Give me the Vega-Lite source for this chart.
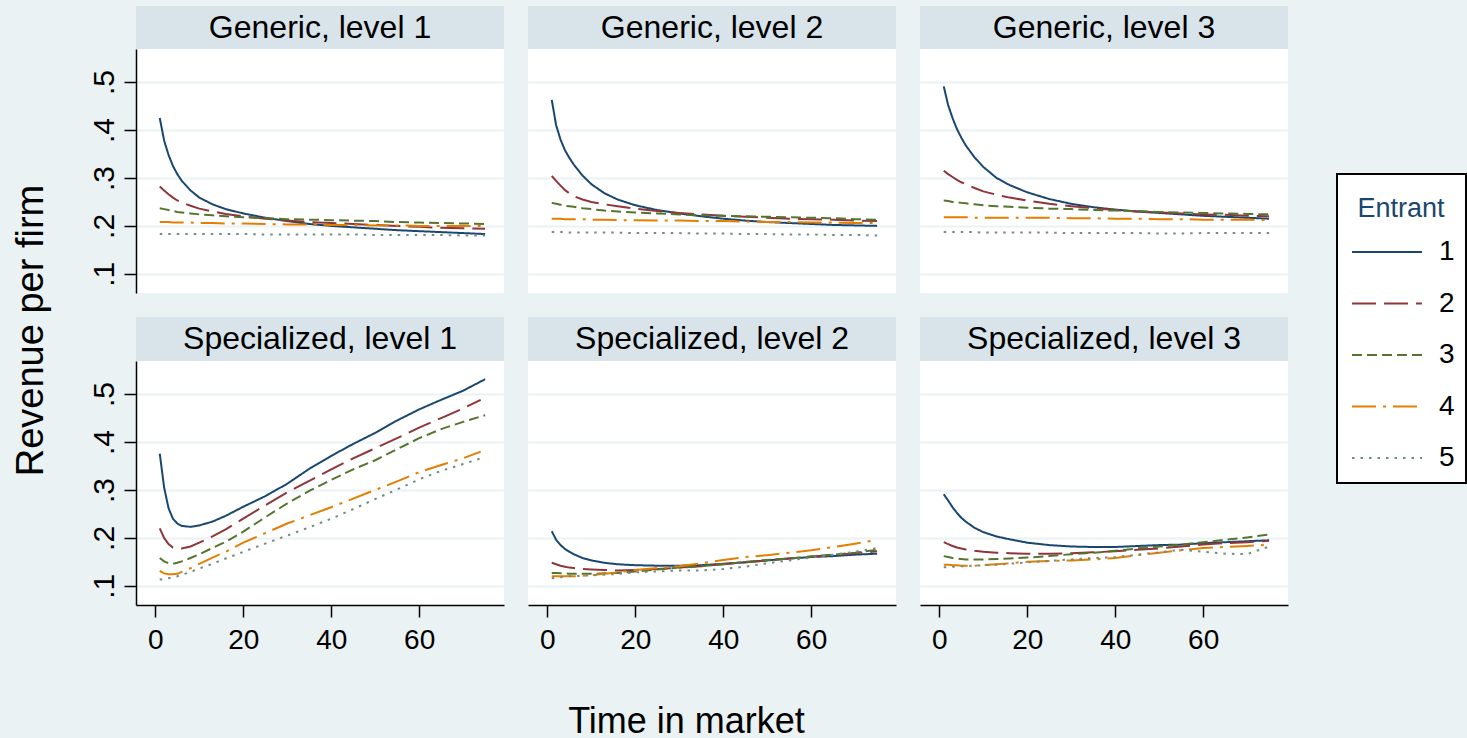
{
"$schema":"https://vega.github.io/schema/vega-lite/v6.json",
"background":"#eaf2f3",
"autosize":{"type":"pad"},
"padding":{"left":12,"top":6,"right":0,"bottom":0},
"title":{"text":"Revenue per firm","orient":"left","anchor":"middle","fontSize":38,"fontWeight":"normal","font":"Liberation Sans","color":"black","offset":38,"dx":42},
"config":{
 "font":"Liberation Sans",
 "view":{"stroke":null,"fill":"white"},
 "axis":{"domainColor":"black","domainWidth":1.5,"tickColor":"black","tickWidth":1.5,"tickSize":12,"labelFont":"Liberation Sans","labelFontSize":28,"labelColor":"black","gridColor":"#eaf2f3","gridWidth":2,"titleFont":"Liberation Sans","titleFontWeight":"normal","titleColor":"black"},
 "legend":{"strokeWidth":2,"labelFont":"Liberation Sans","titleFont":"Liberation Sans"},
 "text":{"font":"Liberation Sans"}
},
"datasets":{"d":[
{"p":"G1","e":"1","t":1,"v":0.425},{"p":"G1","e":"1","t":2,"v":0.378},{"p":"G1","e":"1","t":3,"v":0.348},{"p":"G1","e":"1","t":4,"v":0.325},{"p":"G1","e":"1","t":5,"v":0.308},{"p":"G1","e":"1","t":6,"v":0.294},{"p":"G1","e":"1","t":8,"v":0.274},{"p":"G1","e":"1","t":10,"v":0.259},{"p":"G1","e":"1","t":13,"v":0.245},{"p":"G1","e":"1","t":16,"v":0.235},{"p":"G1","e":"1","t":20,"v":0.226},{"p":"G1","e":"1","t":25,"v":0.217},{"p":"G1","e":"1","t":30,"v":0.21},{"p":"G1","e":"1","t":35,"v":0.204},{"p":"G1","e":"1","t":40,"v":0.2},{"p":"G1","e":"1","t":45,"v":0.197},{"p":"G1","e":"1","t":50,"v":0.194},{"p":"G1","e":"1","t":55,"v":0.191},{"p":"G1","e":"1","t":60,"v":0.189},{"p":"G1","e":"1","t":65,"v":0.187},{"p":"G1","e":"1","t":70,"v":0.185},{"p":"G1","e":"1","t":75,"v":0.183},
{"p":"G1","e":"2","t":1,"v":0.282},{"p":"G1","e":"2","t":2,"v":0.274},{"p":"G1","e":"2","t":3,"v":0.266},{"p":"G1","e":"2","t":4,"v":0.259},{"p":"G1","e":"2","t":5,"v":0.253},{"p":"G1","e":"2","t":6,"v":0.249},{"p":"G1","e":"2","t":8,"v":0.242},{"p":"G1","e":"2","t":10,"v":0.236},{"p":"G1","e":"2","t":13,"v":0.23},{"p":"G1","e":"2","t":16,"v":0.225},{"p":"G1","e":"2","t":20,"v":0.22},{"p":"G1","e":"2","t":25,"v":0.215},{"p":"G1","e":"2","t":30,"v":0.211},{"p":"G1","e":"2","t":35,"v":0.208},{"p":"G1","e":"2","t":40,"v":0.206},{"p":"G1","e":"2","t":45,"v":0.204},{"p":"G1","e":"2","t":50,"v":0.202},{"p":"G1","e":"2","t":55,"v":0.2},{"p":"G1","e":"2","t":60,"v":0.198},{"p":"G1","e":"2","t":65,"v":0.196},{"p":"G1","e":"2","t":70,"v":0.195},{"p":"G1","e":"2","t":75,"v":0.194},
{"p":"G1","e":"3","t":1,"v":0.237},{"p":"G1","e":"3","t":2,"v":0.235},{"p":"G1","e":"3","t":3,"v":0.233},{"p":"G1","e":"3","t":4,"v":0.231},{"p":"G1","e":"3","t":5,"v":0.229},{"p":"G1","e":"3","t":6,"v":0.228},{"p":"G1","e":"3","t":8,"v":0.226},{"p":"G1","e":"3","t":10,"v":0.224},{"p":"G1","e":"3","t":13,"v":0.222},{"p":"G1","e":"3","t":16,"v":0.22},{"p":"G1","e":"3","t":20,"v":0.218},{"p":"G1","e":"3","t":25,"v":0.216},{"p":"G1","e":"3","t":30,"v":0.214},{"p":"G1","e":"3","t":35,"v":0.213},{"p":"G1","e":"3","t":40,"v":0.212},{"p":"G1","e":"3","t":45,"v":0.211},{"p":"G1","e":"3","t":50,"v":0.21},{"p":"G1","e":"3","t":55,"v":0.208},{"p":"G1","e":"3","t":60,"v":0.207},{"p":"G1","e":"3","t":65,"v":0.206},{"p":"G1","e":"3","t":70,"v":0.205},{"p":"G1","e":"3","t":75,"v":0.204},
{"p":"G1","e":"4","t":1,"v":0.208},{"p":"G1","e":"4","t":2,"v":0.208},{"p":"G1","e":"4","t":3,"v":0.208},{"p":"G1","e":"4","t":4,"v":0.207},{"p":"G1","e":"4","t":5,"v":0.207},{"p":"G1","e":"4","t":6,"v":0.207},{"p":"G1","e":"4","t":8,"v":0.207},{"p":"G1","e":"4","t":10,"v":0.206},{"p":"G1","e":"4","t":13,"v":0.206},{"p":"G1","e":"4","t":16,"v":0.205},{"p":"G1","e":"4","t":20,"v":0.205},{"p":"G1","e":"4","t":25,"v":0.204},{"p":"G1","e":"4","t":30,"v":0.203},{"p":"G1","e":"4","t":35,"v":0.203},{"p":"G1","e":"4","t":40,"v":0.202},{"p":"G1","e":"4","t":45,"v":0.202},{"p":"G1","e":"4","t":50,"v":0.201},{"p":"G1","e":"4","t":55,"v":0.201},{"p":"G1","e":"4","t":60,"v":0.2},{"p":"G1","e":"4","t":65,"v":0.2},{"p":"G1","e":"4","t":70,"v":0.2},{"p":"G1","e":"4","t":75,"v":0.2},
{"p":"G1","e":"5","t":1,"v":0.183},{"p":"G1","e":"5","t":2,"v":0.183},{"p":"G1","e":"5","t":3,"v":0.183},{"p":"G1","e":"5","t":4,"v":0.183},{"p":"G1","e":"5","t":5,"v":0.183},{"p":"G1","e":"5","t":6,"v":0.183},{"p":"G1","e":"5","t":8,"v":0.183},{"p":"G1","e":"5","t":10,"v":0.183},{"p":"G1","e":"5","t":13,"v":0.183},{"p":"G1","e":"5","t":16,"v":0.183},{"p":"G1","e":"5","t":20,"v":0.183},{"p":"G1","e":"5","t":25,"v":0.182},{"p":"G1","e":"5","t":30,"v":0.182},{"p":"G1","e":"5","t":35,"v":0.182},{"p":"G1","e":"5","t":40,"v":0.182},{"p":"G1","e":"5","t":45,"v":0.182},{"p":"G1","e":"5","t":50,"v":0.181},{"p":"G1","e":"5","t":55,"v":0.181},{"p":"G1","e":"5","t":60,"v":0.181},{"p":"G1","e":"5","t":65,"v":0.181},{"p":"G1","e":"5","t":70,"v":0.18},{"p":"G1","e":"5","t":75,"v":0.18},
{"p":"G2","e":"1","t":1,"v":0.463},{"p":"G2","e":"1","t":2,"v":0.41},{"p":"G2","e":"1","t":3,"v":0.38},{"p":"G2","e":"1","t":4,"v":0.358},{"p":"G2","e":"1","t":5,"v":0.342},{"p":"G2","e":"1","t":6,"v":0.328},{"p":"G2","e":"1","t":8,"v":0.305},{"p":"G2","e":"1","t":10,"v":0.287},{"p":"G2","e":"1","t":13,"v":0.268},{"p":"G2","e":"1","t":16,"v":0.255},{"p":"G2","e":"1","t":20,"v":0.243},{"p":"G2","e":"1","t":25,"v":0.233},{"p":"G2","e":"1","t":30,"v":0.226},{"p":"G2","e":"1","t":35,"v":0.22},{"p":"G2","e":"1","t":40,"v":0.215},{"p":"G2","e":"1","t":45,"v":0.211},{"p":"G2","e":"1","t":50,"v":0.208},{"p":"G2","e":"1","t":55,"v":0.206},{"p":"G2","e":"1","t":60,"v":0.204},{"p":"G2","e":"1","t":65,"v":0.202},{"p":"G2","e":"1","t":70,"v":0.201},{"p":"G2","e":"1","t":75,"v":0.2},
{"p":"G2","e":"2","t":1,"v":0.304},{"p":"G2","e":"2","t":2,"v":0.294},{"p":"G2","e":"2","t":3,"v":0.284},{"p":"G2","e":"2","t":4,"v":0.275},{"p":"G2","e":"2","t":5,"v":0.268},{"p":"G2","e":"2","t":6,"v":0.262},{"p":"G2","e":"2","t":8,"v":0.255},{"p":"G2","e":"2","t":10,"v":0.25},{"p":"G2","e":"2","t":13,"v":0.245},{"p":"G2","e":"2","t":16,"v":0.241},{"p":"G2","e":"2","t":20,"v":0.236},{"p":"G2","e":"2","t":25,"v":0.231},{"p":"G2","e":"2","t":30,"v":0.227},{"p":"G2","e":"2","t":35,"v":0.224},{"p":"G2","e":"2","t":40,"v":0.221},{"p":"G2","e":"2","t":45,"v":0.219},{"p":"G2","e":"2","t":50,"v":0.217},{"p":"G2","e":"2","t":55,"v":0.215},{"p":"G2","e":"2","t":60,"v":0.214},{"p":"G2","e":"2","t":65,"v":0.213},{"p":"G2","e":"2","t":70,"v":0.211},{"p":"G2","e":"2","t":75,"v":0.21},
{"p":"G2","e":"3","t":1,"v":0.248},{"p":"G2","e":"3","t":2,"v":0.246},{"p":"G2","e":"3","t":3,"v":0.244},{"p":"G2","e":"3","t":4,"v":0.242},{"p":"G2","e":"3","t":5,"v":0.241},{"p":"G2","e":"3","t":6,"v":0.24},{"p":"G2","e":"3","t":8,"v":0.237},{"p":"G2","e":"3","t":10,"v":0.235},{"p":"G2","e":"3","t":13,"v":0.232},{"p":"G2","e":"3","t":16,"v":0.23},{"p":"G2","e":"3","t":20,"v":0.228},{"p":"G2","e":"3","t":25,"v":0.226},{"p":"G2","e":"3","t":30,"v":0.224},{"p":"G2","e":"3","t":35,"v":0.222},{"p":"G2","e":"3","t":40,"v":0.221},{"p":"G2","e":"3","t":45,"v":0.22},{"p":"G2","e":"3","t":50,"v":0.219},{"p":"G2","e":"3","t":55,"v":0.218},{"p":"G2","e":"3","t":60,"v":0.217},{"p":"G2","e":"3","t":65,"v":0.216},{"p":"G2","e":"3","t":70,"v":0.214},{"p":"G2","e":"3","t":75,"v":0.213},
{"p":"G2","e":"4","t":1,"v":0.215},{"p":"G2","e":"4","t":2,"v":0.215},{"p":"G2","e":"4","t":3,"v":0.215},{"p":"G2","e":"4","t":4,"v":0.214},{"p":"G2","e":"4","t":5,"v":0.214},{"p":"G2","e":"4","t":6,"v":0.214},{"p":"G2","e":"4","t":8,"v":0.214},{"p":"G2","e":"4","t":10,"v":0.213},{"p":"G2","e":"4","t":13,"v":0.213},{"p":"G2","e":"4","t":16,"v":0.212},{"p":"G2","e":"4","t":20,"v":0.212},{"p":"G2","e":"4","t":25,"v":0.211},{"p":"G2","e":"4","t":30,"v":0.211},{"p":"G2","e":"4","t":35,"v":0.21},{"p":"G2","e":"4","t":40,"v":0.21},{"p":"G2","e":"4","t":45,"v":0.209},{"p":"G2","e":"4","t":50,"v":0.208},{"p":"G2","e":"4","t":55,"v":0.208},{"p":"G2","e":"4","t":60,"v":0.207},{"p":"G2","e":"4","t":65,"v":0.207},{"p":"G2","e":"4","t":70,"v":0.206},{"p":"G2","e":"4","t":75,"v":0.206},
{"p":"G2","e":"5","t":1,"v":0.187},{"p":"G2","e":"5","t":2,"v":0.187},{"p":"G2","e":"5","t":3,"v":0.187},{"p":"G2","e":"5","t":4,"v":0.187},{"p":"G2","e":"5","t":5,"v":0.186},{"p":"G2","e":"5","t":6,"v":0.186},{"p":"G2","e":"5","t":8,"v":0.186},{"p":"G2","e":"5","t":10,"v":0.186},{"p":"G2","e":"5","t":13,"v":0.186},{"p":"G2","e":"5","t":16,"v":0.186},{"p":"G2","e":"5","t":20,"v":0.185},{"p":"G2","e":"5","t":25,"v":0.185},{"p":"G2","e":"5","t":30,"v":0.185},{"p":"G2","e":"5","t":35,"v":0.184},{"p":"G2","e":"5","t":40,"v":0.184},{"p":"G2","e":"5","t":45,"v":0.183},{"p":"G2","e":"5","t":50,"v":0.183},{"p":"G2","e":"5","t":55,"v":0.182},{"p":"G2","e":"5","t":60,"v":0.182},{"p":"G2","e":"5","t":65,"v":0.181},{"p":"G2","e":"5","t":70,"v":0.181},{"p":"G2","e":"5","t":75,"v":0.18},
{"p":"G3","e":"1","t":1,"v":0.491},{"p":"G3","e":"1","t":2,"v":0.452},{"p":"G3","e":"1","t":3,"v":0.425},{"p":"G3","e":"1","t":4,"v":0.402},{"p":"G3","e":"1","t":5,"v":0.384},{"p":"G3","e":"1","t":6,"v":0.368},{"p":"G3","e":"1","t":8,"v":0.343},{"p":"G3","e":"1","t":10,"v":0.323},{"p":"G3","e":"1","t":13,"v":0.3},{"p":"G3","e":"1","t":16,"v":0.285},{"p":"G3","e":"1","t":20,"v":0.27},{"p":"G3","e":"1","t":25,"v":0.256},{"p":"G3","e":"1","t":30,"v":0.246},{"p":"G3","e":"1","t":35,"v":0.239},{"p":"G3","e":"1","t":40,"v":0.234},{"p":"G3","e":"1","t":45,"v":0.23},{"p":"G3","e":"1","t":50,"v":0.227},{"p":"G3","e":"1","t":55,"v":0.224},{"p":"G3","e":"1","t":60,"v":0.221},{"p":"G3","e":"1","t":65,"v":0.219},{"p":"G3","e":"1","t":70,"v":0.217},{"p":"G3","e":"1","t":75,"v":0.215},
{"p":"G3","e":"2","t":1,"v":0.315},{"p":"G3","e":"2","t":2,"v":0.308},{"p":"G3","e":"2","t":3,"v":0.302},{"p":"G3","e":"2","t":4,"v":0.296},{"p":"G3","e":"2","t":5,"v":0.291},{"p":"G3","e":"2","t":6,"v":0.287},{"p":"G3","e":"2","t":8,"v":0.279},{"p":"G3","e":"2","t":10,"v":0.272},{"p":"G3","e":"2","t":13,"v":0.265},{"p":"G3","e":"2","t":16,"v":0.259},{"p":"G3","e":"2","t":20,"v":0.253},{"p":"G3","e":"2","t":25,"v":0.246},{"p":"G3","e":"2","t":30,"v":0.241},{"p":"G3","e":"2","t":35,"v":0.237},{"p":"G3","e":"2","t":40,"v":0.233},{"p":"G3","e":"2","t":45,"v":0.23},{"p":"G3","e":"2","t":50,"v":0.228},{"p":"G3","e":"2","t":55,"v":0.226},{"p":"G3","e":"2","t":60,"v":0.224},{"p":"G3","e":"2","t":65,"v":0.223},{"p":"G3","e":"2","t":70,"v":0.221},{"p":"G3","e":"2","t":75,"v":0.22},
{"p":"G3","e":"3","t":1,"v":0.253},{"p":"G3","e":"3","t":2,"v":0.252},{"p":"G3","e":"3","t":3,"v":0.25},{"p":"G3","e":"3","t":4,"v":0.249},{"p":"G3","e":"3","t":5,"v":0.248},{"p":"G3","e":"3","t":6,"v":0.247},{"p":"G3","e":"3","t":8,"v":0.245},{"p":"G3","e":"3","t":10,"v":0.243},{"p":"G3","e":"3","t":13,"v":0.241},{"p":"G3","e":"3","t":16,"v":0.24},{"p":"G3","e":"3","t":20,"v":0.238},{"p":"G3","e":"3","t":25,"v":0.236},{"p":"G3","e":"3","t":30,"v":0.235},{"p":"G3","e":"3","t":35,"v":0.233},{"p":"G3","e":"3","t":40,"v":0.232},{"p":"G3","e":"3","t":45,"v":0.231},{"p":"G3","e":"3","t":50,"v":0.229},{"p":"G3","e":"3","t":55,"v":0.228},{"p":"G3","e":"3","t":60,"v":0.227},{"p":"G3","e":"3","t":65,"v":0.226},{"p":"G3","e":"3","t":70,"v":0.225},{"p":"G3","e":"3","t":75,"v":0.224},
{"p":"G3","e":"4","t":1,"v":0.218},{"p":"G3","e":"4","t":2,"v":0.218},{"p":"G3","e":"4","t":3,"v":0.218},{"p":"G3","e":"4","t":4,"v":0.218},{"p":"G3","e":"4","t":5,"v":0.218},{"p":"G3","e":"4","t":6,"v":0.218},{"p":"G3","e":"4","t":8,"v":0.217},{"p":"G3","e":"4","t":10,"v":0.217},{"p":"G3","e":"4","t":13,"v":0.217},{"p":"G3","e":"4","t":16,"v":0.217},{"p":"G3","e":"4","t":20,"v":0.217},{"p":"G3","e":"4","t":25,"v":0.217},{"p":"G3","e":"4","t":30,"v":0.216},{"p":"G3","e":"4","t":35,"v":0.216},{"p":"G3","e":"4","t":40,"v":0.215},{"p":"G3","e":"4","t":45,"v":0.215},{"p":"G3","e":"4","t":50,"v":0.214},{"p":"G3","e":"4","t":55,"v":0.214},{"p":"G3","e":"4","t":60,"v":0.213},{"p":"G3","e":"4","t":65,"v":0.213},{"p":"G3","e":"4","t":70,"v":0.213},{"p":"G3","e":"4","t":75,"v":0.212},
{"p":"G3","e":"5","t":1,"v":0.187},{"p":"G3","e":"5","t":2,"v":0.187},{"p":"G3","e":"5","t":3,"v":0.187},{"p":"G3","e":"5","t":4,"v":0.187},{"p":"G3","e":"5","t":5,"v":0.187},{"p":"G3","e":"5","t":6,"v":0.187},{"p":"G3","e":"5","t":8,"v":0.187},{"p":"G3","e":"5","t":10,"v":0.186},{"p":"G3","e":"5","t":13,"v":0.186},{"p":"G3","e":"5","t":16,"v":0.186},{"p":"G3","e":"5","t":20,"v":0.186},{"p":"G3","e":"5","t":25,"v":0.186},{"p":"G3","e":"5","t":30,"v":0.185},{"p":"G3","e":"5","t":35,"v":0.185},{"p":"G3","e":"5","t":40,"v":0.185},{"p":"G3","e":"5","t":45,"v":0.185},{"p":"G3","e":"5","t":50,"v":0.184},{"p":"G3","e":"5","t":55,"v":0.184},{"p":"G3","e":"5","t":60,"v":0.185},{"p":"G3","e":"5","t":65,"v":0.185},{"p":"G3","e":"5","t":70,"v":0.185},{"p":"G3","e":"5","t":75,"v":0.185},
{"p":"S1","e":"1","t":1,"v":0.376},{"p":"S1","e":"1","t":2,"v":0.305},{"p":"S1","e":"1","t":3,"v":0.262},{"p":"S1","e":"1","t":4,"v":0.24},{"p":"S1","e":"1","t":5,"v":0.23},{"p":"S1","e":"1","t":6,"v":0.225},{"p":"S1","e":"1","t":8,"v":0.223},{"p":"S1","e":"1","t":10,"v":0.226},{"p":"S1","e":"1","t":13,"v":0.234},{"p":"S1","e":"1","t":16,"v":0.246},{"p":"S1","e":"1","t":20,"v":0.265},{"p":"S1","e":"1","t":25,"v":0.287},{"p":"S1","e":"1","t":30,"v":0.313},{"p":"S1","e":"1","t":35,"v":0.344},{"p":"S1","e":"1","t":40,"v":0.371},{"p":"S1","e":"1","t":45,"v":0.396},{"p":"S1","e":"1","t":50,"v":0.419},{"p":"S1","e":"1","t":55,"v":0.445},{"p":"S1","e":"1","t":60,"v":0.468},{"p":"S1","e":"1","t":65,"v":0.488},{"p":"S1","e":"1","t":70,"v":0.507},{"p":"S1","e":"1","t":75,"v":0.531},
{"p":"S1","e":"2","t":1,"v":0.22},{"p":"S1","e":"2","t":2,"v":0.2},{"p":"S1","e":"2","t":3,"v":0.187},{"p":"S1","e":"2","t":4,"v":0.18},{"p":"S1","e":"2","t":5,"v":0.178},{"p":"S1","e":"2","t":6,"v":0.178},{"p":"S1","e":"2","t":8,"v":0.182},{"p":"S1","e":"2","t":10,"v":0.19},{"p":"S1","e":"2","t":13,"v":0.203},{"p":"S1","e":"2","t":16,"v":0.218},{"p":"S1","e":"2","t":20,"v":0.24},{"p":"S1","e":"2","t":25,"v":0.268},{"p":"S1","e":"2","t":30,"v":0.295},{"p":"S1","e":"2","t":35,"v":0.319},{"p":"S1","e":"2","t":40,"v":0.343},{"p":"S1","e":"2","t":45,"v":0.366},{"p":"S1","e":"2","t":50,"v":0.387},{"p":"S1","e":"2","t":55,"v":0.408},{"p":"S1","e":"2","t":60,"v":0.43},{"p":"S1","e":"2","t":65,"v":0.45},{"p":"S1","e":"2","t":70,"v":0.47},{"p":"S1","e":"2","t":74,"v":0.488},
{"p":"S1","e":"3","t":1,"v":0.158},{"p":"S1","e":"3","t":2,"v":0.151},{"p":"S1","e":"3","t":3,"v":0.147},{"p":"S1","e":"3","t":4,"v":0.146},{"p":"S1","e":"3","t":5,"v":0.148},{"p":"S1","e":"3","t":6,"v":0.151},{"p":"S1","e":"3","t":8,"v":0.158},{"p":"S1","e":"3","t":10,"v":0.166},{"p":"S1","e":"3","t":13,"v":0.179},{"p":"S1","e":"3","t":16,"v":0.192},{"p":"S1","e":"3","t":20,"v":0.213},{"p":"S1","e":"3","t":25,"v":0.243},{"p":"S1","e":"3","t":30,"v":0.272},{"p":"S1","e":"3","t":35,"v":0.298},{"p":"S1","e":"3","t":40,"v":0.321},{"p":"S1","e":"3","t":45,"v":0.343},{"p":"S1","e":"3","t":50,"v":0.362},{"p":"S1","e":"3","t":55,"v":0.385},{"p":"S1","e":"3","t":60,"v":0.408},{"p":"S1","e":"3","t":65,"v":0.427},{"p":"S1","e":"3","t":70,"v":0.442},{"p":"S1","e":"3","t":75,"v":0.456},
{"p":"S1","e":"4","t":1,"v":0.131},{"p":"S1","e":"4","t":2,"v":0.126},{"p":"S1","e":"4","t":3,"v":0.124},{"p":"S1","e":"4","t":4,"v":0.124},{"p":"S1","e":"4","t":5,"v":0.125},{"p":"S1","e":"4","t":6,"v":0.129},{"p":"S1","e":"4","t":8,"v":0.137},{"p":"S1","e":"4","t":10,"v":0.146},{"p":"S1","e":"4","t":13,"v":0.159},{"p":"S1","e":"4","t":16,"v":0.171},{"p":"S1","e":"4","t":20,"v":0.19},{"p":"S1","e":"4","t":25,"v":0.21},{"p":"S1","e":"4","t":30,"v":0.23},{"p":"S1","e":"4","t":35,"v":0.247},{"p":"S1","e":"4","t":40,"v":0.264},{"p":"S1","e":"4","t":45,"v":0.282},{"p":"S1","e":"4","t":50,"v":0.3},{"p":"S1","e":"4","t":55,"v":0.318},{"p":"S1","e":"4","t":60,"v":0.337},{"p":"S1","e":"4","t":65,"v":0.352},{"p":"S1","e":"4","t":70,"v":0.366},{"p":"S1","e":"4","t":74,"v":0.38},
{"p":"S1","e":"5","t":1,"v":0.113},{"p":"S1","e":"5","t":2,"v":0.114},{"p":"S1","e":"5","t":3,"v":0.116},{"p":"S1","e":"5","t":4,"v":0.118},{"p":"S1","e":"5","t":5,"v":0.12},{"p":"S1","e":"5","t":6,"v":0.123},{"p":"S1","e":"5","t":8,"v":0.129},{"p":"S1","e":"5","t":10,"v":0.136},{"p":"S1","e":"5","t":13,"v":0.146},{"p":"S1","e":"5","t":16,"v":0.157},{"p":"S1","e":"5","t":20,"v":0.171},{"p":"S1","e":"5","t":25,"v":0.188},{"p":"S1","e":"5","t":30,"v":0.205},{"p":"S1","e":"5","t":35,"v":0.222},{"p":"S1","e":"5","t":40,"v":0.24},{"p":"S1","e":"5","t":45,"v":0.26},{"p":"S1","e":"5","t":50,"v":0.281},{"p":"S1","e":"5","t":55,"v":0.301},{"p":"S1","e":"5","t":60,"v":0.322},{"p":"S1","e":"5","t":65,"v":0.34},{"p":"S1","e":"5","t":70,"v":0.354},{"p":"S1","e":"5","t":74,"v":0.366},
{"p":"S2","e":"1","t":1,"v":0.214},{"p":"S2","e":"1","t":2,"v":0.196},{"p":"S2","e":"1","t":3,"v":0.185},{"p":"S2","e":"1","t":4,"v":0.177},{"p":"S2","e":"1","t":5,"v":0.171},{"p":"S2","e":"1","t":6,"v":0.166},{"p":"S2","e":"1","t":8,"v":0.158},{"p":"S2","e":"1","t":10,"v":0.153},{"p":"S2","e":"1","t":13,"v":0.148},{"p":"S2","e":"1","t":16,"v":0.145},{"p":"S2","e":"1","t":20,"v":0.143},{"p":"S2","e":"1","t":25,"v":0.142},{"p":"S2","e":"1","t":30,"v":0.142},{"p":"S2","e":"1","t":35,"v":0.143},{"p":"S2","e":"1","t":40,"v":0.146},{"p":"S2","e":"1","t":45,"v":0.149},{"p":"S2","e":"1","t":50,"v":0.153},{"p":"S2","e":"1","t":55,"v":0.157},{"p":"S2","e":"1","t":60,"v":0.16},{"p":"S2","e":"1","t":65,"v":0.162},{"p":"S2","e":"1","t":70,"v":0.165},{"p":"S2","e":"1","t":75,"v":0.167},
{"p":"S2","e":"2","t":1,"v":0.148},{"p":"S2","e":"2","t":2,"v":0.145},{"p":"S2","e":"2","t":3,"v":0.142},{"p":"S2","e":"2","t":4,"v":0.14},{"p":"S2","e":"2","t":5,"v":0.138},{"p":"S2","e":"2","t":6,"v":0.137},{"p":"S2","e":"2","t":8,"v":0.135},{"p":"S2","e":"2","t":10,"v":0.134},{"p":"S2","e":"2","t":13,"v":0.133},{"p":"S2","e":"2","t":16,"v":0.132},{"p":"S2","e":"2","t":20,"v":0.133},{"p":"S2","e":"2","t":25,"v":0.135},{"p":"S2","e":"2","t":30,"v":0.138},{"p":"S2","e":"2","t":35,"v":0.141},{"p":"S2","e":"2","t":40,"v":0.145},{"p":"S2","e":"2","t":45,"v":0.149},{"p":"S2","e":"2","t":50,"v":0.153},{"p":"S2","e":"2","t":55,"v":0.157},{"p":"S2","e":"2","t":60,"v":0.161},{"p":"S2","e":"2","t":65,"v":0.164},{"p":"S2","e":"2","t":70,"v":0.168},{"p":"S2","e":"2","t":75,"v":0.172},
{"p":"S2","e":"3","t":1,"v":0.127},{"p":"S2","e":"3","t":2,"v":0.127},{"p":"S2","e":"3","t":3,"v":0.126},{"p":"S2","e":"3","t":4,"v":0.126},{"p":"S2","e":"3","t":5,"v":0.125},{"p":"S2","e":"3","t":6,"v":0.125},{"p":"S2","e":"3","t":8,"v":0.125},{"p":"S2","e":"3","t":10,"v":0.125},{"p":"S2","e":"3","t":13,"v":0.126},{"p":"S2","e":"3","t":16,"v":0.127},{"p":"S2","e":"3","t":20,"v":0.13},{"p":"S2","e":"3","t":25,"v":0.134},{"p":"S2","e":"3","t":30,"v":0.138},{"p":"S2","e":"3","t":35,"v":0.141},{"p":"S2","e":"3","t":40,"v":0.145},{"p":"S2","e":"3","t":45,"v":0.15},{"p":"S2","e":"3","t":50,"v":0.154},{"p":"S2","e":"3","t":55,"v":0.157},{"p":"S2","e":"3","t":60,"v":0.161},{"p":"S2","e":"3","t":65,"v":0.165},{"p":"S2","e":"3","t":70,"v":0.169},{"p":"S2","e":"3","t":75,"v":0.175},
{"p":"S2","e":"4","t":1,"v":0.12},{"p":"S2","e":"4","t":2,"v":0.12},{"p":"S2","e":"4","t":3,"v":0.12},{"p":"S2","e":"4","t":4,"v":0.12},{"p":"S2","e":"4","t":5,"v":0.12},{"p":"S2","e":"4","t":6,"v":0.12},{"p":"S2","e":"4","t":8,"v":0.121},{"p":"S2","e":"4","t":10,"v":0.122},{"p":"S2","e":"4","t":13,"v":0.125},{"p":"S2","e":"4","t":16,"v":0.128},{"p":"S2","e":"4","t":20,"v":0.133},{"p":"S2","e":"4","t":25,"v":0.137},{"p":"S2","e":"4","t":30,"v":0.141},{"p":"S2","e":"4","t":35,"v":0.147},{"p":"S2","e":"4","t":40,"v":0.154},{"p":"S2","e":"4","t":45,"v":0.16},{"p":"S2","e":"4","t":50,"v":0.164},{"p":"S2","e":"4","t":55,"v":0.169},{"p":"S2","e":"4","t":60,"v":0.174},{"p":"S2","e":"4","t":65,"v":0.181},{"p":"S2","e":"4","t":70,"v":0.188},{"p":"S2","e":"4","t":75,"v":0.196},
{"p":"S2","e":"5","t":1,"v":0.116},{"p":"S2","e":"5","t":2,"v":0.117},{"p":"S2","e":"5","t":3,"v":0.118},{"p":"S2","e":"5","t":4,"v":0.119},{"p":"S2","e":"5","t":5,"v":0.12},{"p":"S2","e":"5","t":6,"v":0.12},{"p":"S2","e":"5","t":8,"v":0.121},{"p":"S2","e":"5","t":10,"v":0.122},{"p":"S2","e":"5","t":13,"v":0.123},{"p":"S2","e":"5","t":16,"v":0.125},{"p":"S2","e":"5","t":20,"v":0.128},{"p":"S2","e":"5","t":25,"v":0.13},{"p":"S2","e":"5","t":30,"v":0.132},{"p":"S2","e":"5","t":35,"v":0.132},{"p":"S2","e":"5","t":40,"v":0.135},{"p":"S2","e":"5","t":45,"v":0.14},{"p":"S2","e":"5","t":50,"v":0.147},{"p":"S2","e":"5","t":55,"v":0.153},{"p":"S2","e":"5","t":60,"v":0.159},{"p":"S2","e":"5","t":65,"v":0.165},{"p":"S2","e":"5","t":70,"v":0.171},{"p":"S2","e":"5","t":75,"v":0.179},
{"p":"S3","e":"1","t":1,"v":0.291},{"p":"S3","e":"1","t":2,"v":0.278},{"p":"S3","e":"1","t":3,"v":0.264},{"p":"S3","e":"1","t":4,"v":0.252},{"p":"S3","e":"1","t":5,"v":0.242},{"p":"S3","e":"1","t":6,"v":0.234},{"p":"S3","e":"1","t":8,"v":0.221},{"p":"S3","e":"1","t":10,"v":0.212},{"p":"S3","e":"1","t":13,"v":0.203},{"p":"S3","e":"1","t":16,"v":0.197},{"p":"S3","e":"1","t":20,"v":0.19},{"p":"S3","e":"1","t":25,"v":0.185},{"p":"S3","e":"1","t":30,"v":0.182},{"p":"S3","e":"1","t":35,"v":0.181},{"p":"S3","e":"1","t":40,"v":0.181},{"p":"S3","e":"1","t":45,"v":0.183},{"p":"S3","e":"1","t":50,"v":0.185},{"p":"S3","e":"1","t":55,"v":0.186},{"p":"S3","e":"1","t":60,"v":0.189},{"p":"S3","e":"1","t":65,"v":0.191},{"p":"S3","e":"1","t":70,"v":0.193},{"p":"S3","e":"1","t":75,"v":0.195},
{"p":"S3","e":"2","t":1,"v":0.191},{"p":"S3","e":"2","t":2,"v":0.187},{"p":"S3","e":"2","t":3,"v":0.183},{"p":"S3","e":"2","t":4,"v":0.18},{"p":"S3","e":"2","t":5,"v":0.178},{"p":"S3","e":"2","t":6,"v":0.176},{"p":"S3","e":"2","t":8,"v":0.173},{"p":"S3","e":"2","t":10,"v":0.171},{"p":"S3","e":"2","t":13,"v":0.169},{"p":"S3","e":"2","t":16,"v":0.168},{"p":"S3","e":"2","t":20,"v":0.167},{"p":"S3","e":"2","t":25,"v":0.167},{"p":"S3","e":"2","t":30,"v":0.168},{"p":"S3","e":"2","t":35,"v":0.17},{"p":"S3","e":"2","t":40,"v":0.172},{"p":"S3","e":"2","t":45,"v":0.175},{"p":"S3","e":"2","t":50,"v":0.178},{"p":"S3","e":"2","t":55,"v":0.182},{"p":"S3","e":"2","t":60,"v":0.186},{"p":"S3","e":"2","t":65,"v":0.189},{"p":"S3","e":"2","t":70,"v":0.191},{"p":"S3","e":"2","t":75,"v":0.194},
{"p":"S3","e":"3","t":1,"v":0.162},{"p":"S3","e":"3","t":2,"v":0.16},{"p":"S3","e":"3","t":3,"v":0.158},{"p":"S3","e":"3","t":4,"v":0.157},{"p":"S3","e":"3","t":5,"v":0.156},{"p":"S3","e":"3","t":6,"v":0.155},{"p":"S3","e":"3","t":8,"v":0.155},{"p":"S3","e":"3","t":10,"v":0.155},{"p":"S3","e":"3","t":13,"v":0.156},{"p":"S3","e":"3","t":16,"v":0.157},{"p":"S3","e":"3","t":20,"v":0.159},{"p":"S3","e":"3","t":25,"v":0.162},{"p":"S3","e":"3","t":30,"v":0.166},{"p":"S3","e":"3","t":35,"v":0.169},{"p":"S3","e":"3","t":40,"v":0.173},{"p":"S3","e":"3","t":45,"v":0.178},{"p":"S3","e":"3","t":50,"v":0.182},{"p":"S3","e":"3","t":55,"v":0.186},{"p":"S3","e":"3","t":60,"v":0.191},{"p":"S3","e":"3","t":65,"v":0.196},{"p":"S3","e":"3","t":70,"v":0.201},{"p":"S3","e":"3","t":75,"v":0.207},
{"p":"S3","e":"4","t":1,"v":0.144},{"p":"S3","e":"4","t":2,"v":0.144},{"p":"S3","e":"4","t":3,"v":0.143},{"p":"S3","e":"4","t":4,"v":0.143},{"p":"S3","e":"4","t":5,"v":0.142},{"p":"S3","e":"4","t":6,"v":0.142},{"p":"S3","e":"4","t":8,"v":0.142},{"p":"S3","e":"4","t":10,"v":0.143},{"p":"S3","e":"4","t":13,"v":0.145},{"p":"S3","e":"4","t":16,"v":0.147},{"p":"S3","e":"4","t":20,"v":0.15},{"p":"S3","e":"4","t":25,"v":0.152},{"p":"S3","e":"4","t":30,"v":0.153},{"p":"S3","e":"4","t":35,"v":0.155},{"p":"S3","e":"4","t":40,"v":0.158},{"p":"S3","e":"4","t":45,"v":0.164},{"p":"S3","e":"4","t":50,"v":0.169},{"p":"S3","e":"4","t":55,"v":0.174},{"p":"S3","e":"4","t":60,"v":0.179},{"p":"S3","e":"4","t":65,"v":0.181},{"p":"S3","e":"4","t":70,"v":0.183},{"p":"S3","e":"4","t":75,"v":0.186},
{"p":"S3","e":"5","t":1,"v":0.139},{"p":"S3","e":"5","t":2,"v":0.139},{"p":"S3","e":"5","t":3,"v":0.14},{"p":"S3","e":"5","t":4,"v":0.14},{"p":"S3","e":"5","t":5,"v":0.141},{"p":"S3","e":"5","t":6,"v":0.141},{"p":"S3","e":"5","t":8,"v":0.142},{"p":"S3","e":"5","t":10,"v":0.143},{"p":"S3","e":"5","t":13,"v":0.144},{"p":"S3","e":"5","t":16,"v":0.146},{"p":"S3","e":"5","t":20,"v":0.149},{"p":"S3","e":"5","t":25,"v":0.152},{"p":"S3","e":"5","t":30,"v":0.155},{"p":"S3","e":"5","t":35,"v":0.158},{"p":"S3","e":"5","t":40,"v":0.16},{"p":"S3","e":"5","t":45,"v":0.165},{"p":"S3","e":"5","t":50,"v":0.17},{"p":"S3","e":"5","t":55,"v":0.175},{"p":"S3","e":"5","t":60,"v":0.171},{"p":"S3","e":"5","t":65,"v":0.167},{"p":"S3","e":"5","t":70,"v":0.166},{"p":"S3","e":"5","t":75,"v":0.182}
]},
"vconcat":[
{"hconcat":[
 {"vconcat":[
  {"width":368,"height":43,"view":{"fill":"#d8e4ea","stroke":null},"data":{"values":[{"h":"Generic, level 1"}]},"mark":{"type":"text","fontSize":32,"baseline":"middle","align":"center","color":"black"},"encoding":{"text":{"field":"h"}}},
  {"width":368,"height":244,"data":{"name":"d"},"transform":[{"filter":"datum.p==='G1'"}],"mark":{"type":"line","strokeWidth":2},
   "encoding":{
    "x":{"field":"t","type":"quantitative","scale":{"domain":[-4.4,79.3],"nice":false,"zero":false},"axis":null},
    "y":{"field":"v","type":"quantitative","scale":{"domain":[0.06,0.569],"nice":false,"zero":false},"axis":{"values":[0.1,0.2,0.3,0.4,0.5],"labelExpr":"substring(format(datum.value,'.1f'),1)","labelAngle":-90,"labelAlign":"center","labelBaseline":"alphabetic","labelPadding":11,"labelFontSize":30,"grid":true,"title":null}},
    "color":{"field":"e","type":"nominal","title":"Entrant","scale":{"domain":["1","2","3","4","5"],"range":["#1a476f","#90353b","#55752f","#e37e00","#6e8e84"]},"legend":{"orient":"none","legendX":1201,"legendY":168,"symbolType":"M-1.458,0H1.458","symbolSize":2304,"symbolStrokeWidth":2,"symbolOffset":14,"labelOffset":27,"rowPadding":12.5,"padding":11,"strokeColor":"black","fillColor":"white","titleFontSize":27,"titleColor":"#1a476f","titleFontWeight":"normal","titleAnchor":"middle","titleBaseline":"line-top","titleLineHeight":49,"titlePadding":15,"labelFontSize":28,"labelColor":"black"}},
    "strokeDash":{"field":"e","type":"nominal","title":"Entrant","scale":{"domain":["1","2","3","4","5"],"range":[[1,0],[24,8],[10,5],[24,7,3,7],[2.5,6]]},"legend":{"orient":"none","legendX":1201,"legendY":168,"symbolType":"M-1.458,0H1.458","symbolSize":2304,"symbolStrokeWidth":2,"symbolOffset":14,"labelOffset":27,"rowPadding":12.5,"padding":11,"strokeColor":"black","fillColor":"white","titleFontSize":27,"titleColor":"#1a476f","titleFontWeight":"normal","titleAnchor":"middle","titleBaseline":"line-top","titleLineHeight":49,"titlePadding":15,"labelFontSize":28,"labelColor":"black"}}
   }}
 ],"spacing":0,"bounds":"flush"},
 {"vconcat":[
  {"width":368,"height":43,"view":{"fill":"#d8e4ea","stroke":null},"data":{"values":[{"h":"Generic, level 2"}]},"mark":{"type":"text","fontSize":32,"baseline":"middle","align":"center","color":"black"},"encoding":{"text":{"field":"h"}}},
  {"width":368,"height":244,"data":{"name":"d"},"transform":[{"filter":"datum.p==='G2'"}],"mark":{"type":"line","strokeWidth":2},
   "encoding":{
    "x":{"field":"t","type":"quantitative","scale":{"domain":[-4.4,79.3],"nice":false,"zero":false},"axis":null},
    "y":{"field":"v","type":"quantitative","scale":{"domain":[0.06,0.569],"nice":false,"zero":false},"axis":{"values":[0.1,0.2,0.3,0.4,0.5],"grid":true,"labels":false,"ticks":false,"domain":false,"title":null}},
    "color":{"field":"e","type":"nominal","title":"Entrant","scale":{"domain":["1","2","3","4","5"],"range":["#1a476f","#90353b","#55752f","#e37e00","#6e8e84"]},"legend":null},
    "strokeDash":{"field":"e","type":"nominal","title":"Entrant","scale":{"domain":["1","2","3","4","5"],"range":[[1,0],[24,8],[10,5],[24,7,3,7],[2.5,6]]},"legend":null}
   }}
 ],"spacing":0,"bounds":"flush"},
 {"vconcat":[
  {"width":368,"height":43,"view":{"fill":"#d8e4ea","stroke":null},"data":{"values":[{"h":"Generic, level 3"}]},"mark":{"type":"text","fontSize":32,"baseline":"middle","align":"center","color":"black"},"encoding":{"text":{"field":"h"}}},
  {"width":368,"height":244,"data":{"name":"d"},"transform":[{"filter":"datum.p==='G3'"}],"mark":{"type":"line","strokeWidth":2},
   "encoding":{
    "x":{"field":"t","type":"quantitative","scale":{"domain":[-4.4,79.3],"nice":false,"zero":false},"axis":null},
    "y":{"field":"v","type":"quantitative","scale":{"domain":[0.06,0.569],"nice":false,"zero":false},"axis":{"values":[0.1,0.2,0.3,0.4,0.5],"grid":true,"labels":false,"ticks":false,"domain":false,"title":null}},
    "color":{"field":"e","type":"nominal","title":"Entrant","scale":{"domain":["1","2","3","4","5"],"range":["#1a476f","#90353b","#55752f","#e37e00","#6e8e84"]},"legend":null},
    "strokeDash":{"field":"e","type":"nominal","title":"Entrant","scale":{"domain":["1","2","3","4","5"],"range":[[1,0],[24,8],[10,5],[24,7,3,7],[2.5,6]]},"legend":null}
   }}
 ],"spacing":0,"bounds":"flush"}
],"spacing":24},
{"hconcat":[
 {"vconcat":[
  {"width":368,"height":44,"view":{"fill":"#d8e4ea","stroke":null},"data":{"values":[{"h":"Specialized, level 1"}]},"mark":{"type":"text","fontSize":32,"baseline":"middle","align":"center","color":"black"},"encoding":{"text":{"field":"h"}}},
  {"width":368,"height":244,"data":{"name":"d"},"transform":[{"filter":"datum.p==='S1'"}],"mark":{"type":"line","strokeWidth":2},
   "encoding":{
    "x":{"field":"t","type":"quantitative","scale":{"domain":[-4.4,79.3],"nice":false,"zero":false},"axis":{"values":[0,20,40,60],"grid":false,"labelPadding":9,"labelFlush":false,"title":null}},
    "y":{"field":"v","type":"quantitative","scale":{"domain":[0.06,0.569],"nice":false,"zero":false},"axis":{"values":[0.1,0.2,0.3,0.4,0.5],"labelExpr":"substring(format(datum.value,'.1f'),1)","labelAngle":-90,"labelAlign":"center","labelBaseline":"alphabetic","labelPadding":11,"labelFontSize":30,"grid":true,"title":null}},
    "color":{"field":"e","type":"nominal","title":"Entrant","scale":{"domain":["1","2","3","4","5"],"range":["#1a476f","#90353b","#55752f","#e37e00","#6e8e84"]},"legend":null},
    "strokeDash":{"field":"e","type":"nominal","title":"Entrant","scale":{"domain":["1","2","3","4","5"],"range":[[1,0],[24,8],[10,5],[24,7,3,7],[2.5,6]]},"legend":null}
   }}
 ],"spacing":0,"bounds":"flush"},
 {"vconcat":[
  {"width":368,"height":44,"view":{"fill":"#d8e4ea","stroke":null},"data":{"values":[{"h":"Specialized, level 2"}]},"mark":{"type":"text","fontSize":32,"baseline":"middle","align":"center","color":"black"},"encoding":{"text":{"field":"h"}}},
  {"width":368,"height":244,"data":{"name":"d"},"transform":[{"filter":"datum.p==='S2'"}],"mark":{"type":"line","strokeWidth":2},
   "encoding":{
    "x":{"field":"t","type":"quantitative","scale":{"domain":[-4.4,79.3],"nice":false,"zero":false},"axis":{"values":[0,20,40,60],"grid":false,"labelPadding":9,"labelFlush":false,"title":"Time in market","titleX":158,"titleY":127,"titleAlign":"center","titleBaseline":"alphabetic","titleFontSize":36}},
    "y":{"field":"v","type":"quantitative","scale":{"domain":[0.06,0.569],"nice":false,"zero":false},"axis":{"values":[0.1,0.2,0.3,0.4,0.5],"grid":true,"labels":false,"ticks":false,"domain":false,"title":null}},
    "color":{"field":"e","type":"nominal","title":"Entrant","scale":{"domain":["1","2","3","4","5"],"range":["#1a476f","#90353b","#55752f","#e37e00","#6e8e84"]},"legend":null},
    "strokeDash":{"field":"e","type":"nominal","title":"Entrant","scale":{"domain":["1","2","3","4","5"],"range":[[1,0],[24,8],[10,5],[24,7,3,7],[2.5,6]]},"legend":null}
   }}
 ],"spacing":0,"bounds":"flush"},
 {"vconcat":[
  {"width":368,"height":44,"view":{"fill":"#d8e4ea","stroke":null},"data":{"values":[{"h":"Specialized, level 3"}]},"mark":{"type":"text","fontSize":32,"baseline":"middle","align":"center","color":"black"},"encoding":{"text":{"field":"h"}}},
  {"width":368,"height":244,"data":{"name":"d"},"transform":[{"filter":"datum.p==='S3'"}],"mark":{"type":"line","strokeWidth":2},
   "encoding":{
    "x":{"field":"t","type":"quantitative","scale":{"domain":[-4.4,79.3],"nice":false,"zero":false},"axis":{"values":[0,20,40,60],"grid":false,"labelPadding":9,"labelFlush":false,"title":null}},
    "y":{"field":"v","type":"quantitative","scale":{"domain":[0.06,0.569],"nice":false,"zero":false},"axis":{"values":[0.1,0.2,0.3,0.4,0.5],"grid":true,"labels":false,"ticks":false,"domain":false,"title":null}},
    "color":{"field":"e","type":"nominal","title":"Entrant","scale":{"domain":["1","2","3","4","5"],"range":["#1a476f","#90353b","#55752f","#e37e00","#6e8e84"]},"legend":null},
    "strokeDash":{"field":"e","type":"nominal","title":"Entrant","scale":{"domain":["1","2","3","4","5"],"range":[[1,0],[24,8],[10,5],[24,7,3,7],[2.5,6]]},"legend":null}
   }}
 ],"spacing":0,"bounds":"flush"}
],"spacing":24}
],"spacing":24
}
